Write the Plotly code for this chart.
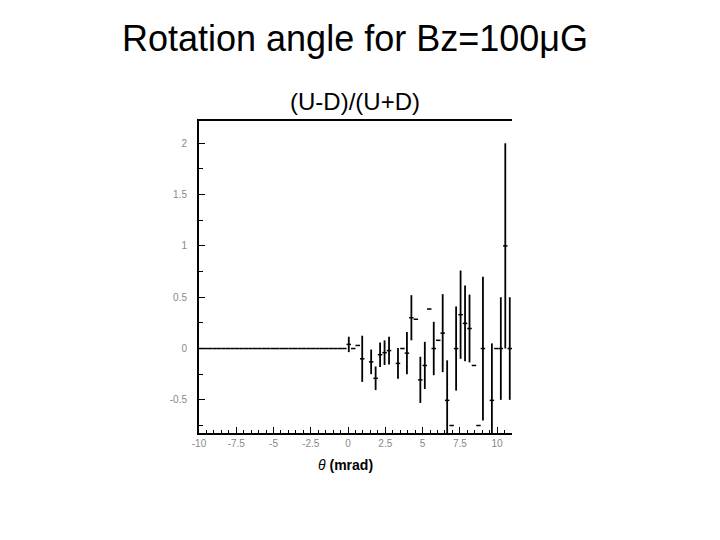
import numpy as np
import plotly.graph_objects as go

# Histogram binning: 70 bins of 0.3 mrad from -10 to 11
bin_low = -10.0
bin_width = 0.3
n_bins = 70

# Bins below theta = 0 (33 bins): all zero with no error
neg_values = [0.0] * 33
neg_errors = [0.0] * 33

# Bins from theta = -0.1 upward (37 bins); None = empty bin
pos_values = [0.04, 0.0, 0.03, -0.10, None, -0.13, -0.29, -0.06, -0.04, -0.02,
              None, -0.145, 0.0, -0.045, 0.30, 0.285, -0.305, -0.165, 0.385, 0.0,
              0.08, 0.15, -0.505, -0.75, 0.0, 0.33, 0.245, 0.195, -0.165, -0.75,
              0.0, None, -0.505, 0.0, 0.0, 1.0, 0.0]
pos_errors = [0.075, 0.0, 0.0, 0.225, 0.0, 0.12, 0.115, 0.12, 0.12, 0.135,
              0.0, 0.15, 0.0, 0.205, 0.22, 0.0, 0.225, 0.23, 0.0, 0.26,
              0.0, 0.38, 0.39, 0.0, 0.41, 0.43, 0.37, 0.33, 0.0, 0.0,
              0.70, 0.0, 0.555, 0.0, 0.5, 1.0, 0.5]

values = neg_values + pos_values
errors = neg_errors + pos_errors
centers = [bin_low + bin_width * (i + 0.5) for i in range(n_bins)]

x_ticks = [-10, -7.5, -5, -2.5, 0, 2.5, 5, 7.5, 10]
x_tick_labels = ["-10", "-7.5", "-5", "-2.5", "0", "2.5", "5", "7.5", "10"]
y_ticks = [-0.5, 0, 0.5, 1, 1.5, 2]
y_tick_labels = ["-0.5", "0", "0.5", "1", "1.5", "2"]

# The page body adds an 8px offset, so the figure is laid out in a 712x532 box
OFF = 8
W, H = 720 - OFF, 540 - OFF
# target plot area in window pixels: x 199..512, y 121..433
PL, PR, PT, PB = 199 - OFF, 512 - OFF, 121 - OFF, 433 - OFF


def px(xp):
    return (xp - OFF - PL) / (PR - PL)


def py(yp):
    return (PB - (yp - OFF)) / (PB - PT)


fig = go.Figure()
fig.add_trace(go.Scatter(
    x=centers, y=values, mode="markers",
    marker=dict(size=1, color="black"),
    error_x=dict(type="data", array=[bin_width / 2] * n_bins, width=0,
                 thickness=1.5, color="black"),
    error_y=dict(type="data", array=errors, width=0, thickness=1.8,
                 color="black"),
    showlegend=False, hoverinfo="skip",
))

fig.update_layout(
    width=W, height=H,
    margin=dict(l=PL, r=W - PR, t=PT, b=H - PB),
    paper_bgcolor="white", plot_bgcolor="white",
    font=dict(family="Liberation Sans, Arial, sans-serif", color="black"),
    title=dict(text="Rotation angle for Bz=100μG", x=(355 - OFF) / W,
               xanchor="center", y=1 - (38 - OFF) / H, yanchor="middle",
               xref="container", yref="container",
               font=dict(size=36, color="black")),
    annotations=[
        dict(text="(U-D)/(U+D)", x=px(355), y=py(101), xref="paper",
             yref="paper", xanchor="center", yanchor="middle",
             showarrow=False, font=dict(size=24, color="black")),
        dict(text="<i>θ</i> <b>(mrad)</b>", x=px(345), y=py(465),
             xref="paper", yref="paper", xanchor="center",
             yanchor="middle", showarrow=False,
             font=dict(size=14, color="black")),
    ],
    xaxis=dict(range=[-10, 11], showgrid=False, zeroline=False,
               showline=True, linecolor="black", linewidth=2, mirror=True,
               ticks="inside", ticklen=6, tickwidth=1, tickcolor="black",
               tickvals=x_ticks, ticktext=x_tick_labels,
               tickfont=dict(size=10, color="#888"), ticklabelstandoff=0,
               minor=dict(dtick=0.5, tick0=0, ticks="inside", ticklen=3,
                          tickcolor="black", showgrid=False)),
    yaxis=dict(range=[-0.823, 2.217], showgrid=False, zeroline=False,
               showline=True, linecolor="black", linewidth=2,
               ticks="inside", ticklen=6, tickwidth=1, tickcolor="black",
               tickvals=y_ticks, ticktext=y_tick_labels,
               tickfont=dict(size=10, color="#888"), ticklabelstandoff=8,
               minor=dict(dtick=0.25, tick0=0, ticks="inside", ticklen=4,
                          tickcolor="black", showgrid=False)),
)

fig.write_html("out.html")
